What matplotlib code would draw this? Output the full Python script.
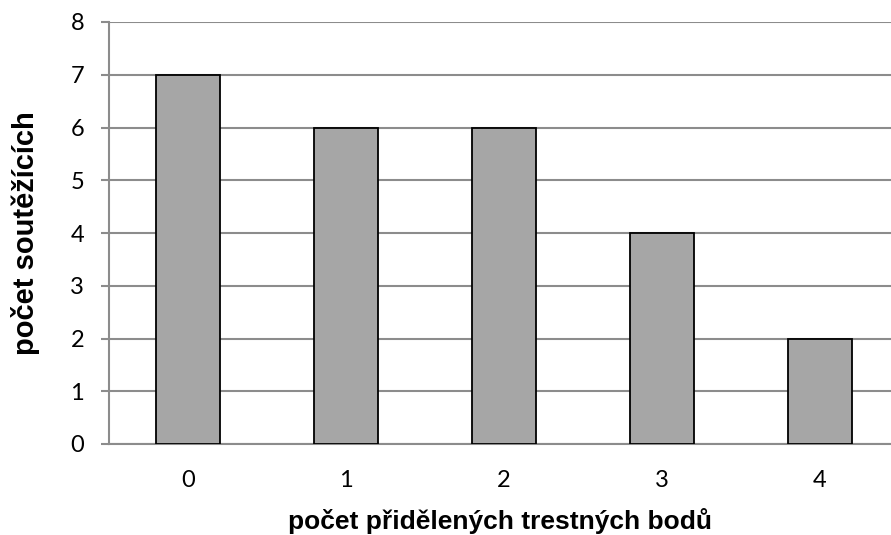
import matplotlib.pyplot as plt
import numpy as np

# počet trestných bodů a počet soutěžících
points = ["0", "1", "2", "3", "4"]
counts = [7, 6, 6, 4, 2]
yticks = [0, 1, 2, 3, 4, 5, 6, 7, 8]

grid_col = "#8c8c8c"

fig = plt.figure(figsize=(8.91, 5.35), dpi=100)
ax = fig.add_axes([109 / 891, 1 - 444 / 535, 782 / 891, 422 / 535])

x = np.arange(len(points))
ax.bar(x, counts, width=0.4, color="#a6a6a6", edgecolor="black", linewidth=1.3, zorder=3)

ax.set_xlim(-0.5, -0.5 + 782 / 158)
ax.set_ylim(0, 8)
ax.set_xticks(x)
ax.set_xticklabels(points)
ax.set_yticks(yticks)

ax.yaxis.grid(True, color=grid_col, linewidth=1.5, zorder=0)
ax.set_axisbelow(True)

for s in ["top", "right"]:
    ax.spines[s].set_visible(False)
for s in ["left", "bottom"]:
    ax.spines[s].set_color(grid_col)
    ax.spines[s].set_linewidth(1.5)

ax.tick_params(axis="y", length=6, width=1.5, color=grid_col, pad=12, labelsize=17)
ax.tick_params(axis="x", length=0, pad=19, labelsize=17)
for lab in ax.get_xticklabels() + ax.get_yticklabels():
    lab.set_family("Lato")

ax.set_xlabel("počet přidělených trestných bodů", fontsize=19, fontweight="bold",
              family="Liberation Sans", labelpad=12)
ax.set_ylabel("počet soutěžících", fontsize=21, fontweight="bold",
              family="Liberation Sans", labelpad=22)

plt.savefig("out.png", dpi=100)
